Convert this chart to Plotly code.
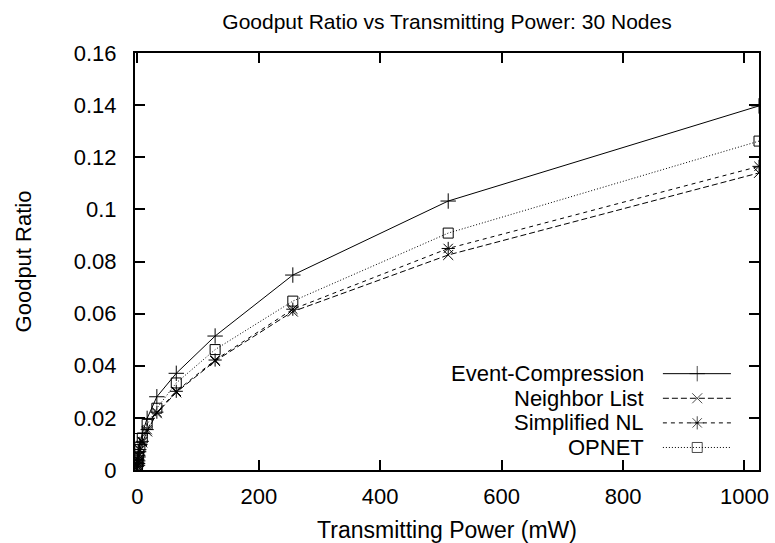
import plotly.graph_objects as go

power = [0.125, 0.25, 0.5, 1, 2, 4, 8, 16, 32, 64, 128, 256, 512, 1024]
event_compression = [0.0018, 0.0025, 0.0035, 0.0050, 0.0070, 0.0098, 0.0140, 0.0198, 0.0281, 0.0371, 0.0514, 0.0748, 0.1032, 0.1397]
neighbor_list = [0.0013, 0.0019, 0.0027, 0.0037, 0.0053, 0.0075, 0.0106, 0.0148, 0.0218, 0.0298, 0.0418, 0.0608, 0.0825, 0.1140]
simplified_nl = [0.0014, 0.0020, 0.0028, 0.0039, 0.0055, 0.0078, 0.0110, 0.0155, 0.0222, 0.0302, 0.0422, 0.0617, 0.0850, 0.1165]
opnet = [0.0016, 0.0022, 0.0030, 0.0043, 0.0060, 0.0087, 0.0123, 0.0175, 0.0237, 0.0334, 0.0462, 0.0648, 0.0909, 0.1262]

series_names = ["Event-Compression", "Neighbor List", "Simplified NL", "OPNET"]
series_values = [event_compression, neighbor_list, simplified_nl, opnet]
series_dash = ["solid", "6px,3px", "4px,4px", "1px,2px"]
series_symbol = ["cross-thin-open", "x-thin-open", "asterisk-open", "square-open"]
series_msize = [11, 10, 11, 10]

y_ticks = [0, 0.02, 0.04, 0.06, 0.08, 0.1, 0.12, 0.14, 0.16]
y_tick_labels = ["0", "0.02", "0.04", "0.06", "0.08", "0.1", "0.12", "0.14", "0.16"]
x_ticks = [0, 200, 400, 600, 800, 1000]
x_tick_labels = ["0", "200", "400", "600", "800", "1000"]

FONT = "Liberation Sans, Arial, Helvetica, sans-serif"
FS_TITLE = 21
FS_BIG = 23
FS_TICK = 22
FS_LEG = 22

fig = go.Figure()
for name, vals, dash, sym, ms in zip(series_names, series_values, series_dash, series_symbol, series_msize):
    fig.add_trace(go.Scatter(
        x=power, y=vals, mode="lines+markers", name=name, showlegend=False,
        line=dict(color="black", width=1, dash=dash),
        marker=dict(symbol=sym, size=ms, color="black", line=dict(color="black", width=1)),
    ))

# custom gnuplot-style legend (text on the left, sample on the right)
leg_rows = [0.231, 0.172, 0.113, 0.054]
leg_x = [0.846, 0.901, 0.955]
for name, dash, sym, ms, ry in zip(series_names, series_dash, series_symbol, series_msize, leg_rows):
    fig.add_trace(go.Scatter(
        x=leg_x, y=[ry] * 3, xaxis="x2", yaxis="y2", mode="lines+markers", showlegend=False,
        line=dict(color="black", width=1, dash=dash),
        marker=dict(symbol=sym, size=[0, ms, 0], color="black", line=dict(color="black", width=1)),
        hoverinfo="skip",
    ))
    fig.add_annotation(x=0.819, y=ry, xref="paper", yref="paper", text=name, showarrow=False,
                       xanchor="right", yanchor="middle", font=dict(family=FONT, size=FS_LEG, color="black"))

axis_common = dict(showline=True, linecolor="black", linewidth=2, mirror="ticks", ticks="inside",
                   ticklen=10, tickwidth=1.5, tickcolor="black", showgrid=False, zeroline=False,
                   automargin=False, tickfont=dict(family=FONT, size=FS_TICK, color="black"))

fig.update_layout(
    width=775, height=543,
    margin=dict(l=135, r=16, t=53, b=73),
    paper_bgcolor="white", plot_bgcolor="white",
    title=dict(text="Goodput Ratio vs Transmitting Power: 30 Nodes", xref="paper", x=0.5, xanchor="center",
               y=1 - 22 / 543, yanchor="middle", font=dict(family=FONT, size=FS_TITLE, color="black")),
    xaxis=dict(range=[-4, 1024], tickvals=x_ticks, ticktext=x_tick_labels, ticklabelstandoff=6,
               title=dict(text="Transmitting Power (mW)", font=dict(family=FONT, size=FS_BIG, color="black"), standoff=14),
               **axis_common),
    yaxis=dict(range=[0, 0.16], tickvals=y_ticks, ticktext=y_tick_labels, ticklabelstandoff=12,
               title=dict(text="Goodput Ratio", font=dict(family=FONT, size=FS_TICK, color="black"), standoff=36),
               **axis_common),
    xaxis2=dict(overlaying="x", range=[0, 1], visible=False),
    yaxis2=dict(overlaying="y", range=[0, 1], visible=False),
    font=dict(family=FONT, size=FS_TICK, color="black"),
)

fig.write_html("out.html")
